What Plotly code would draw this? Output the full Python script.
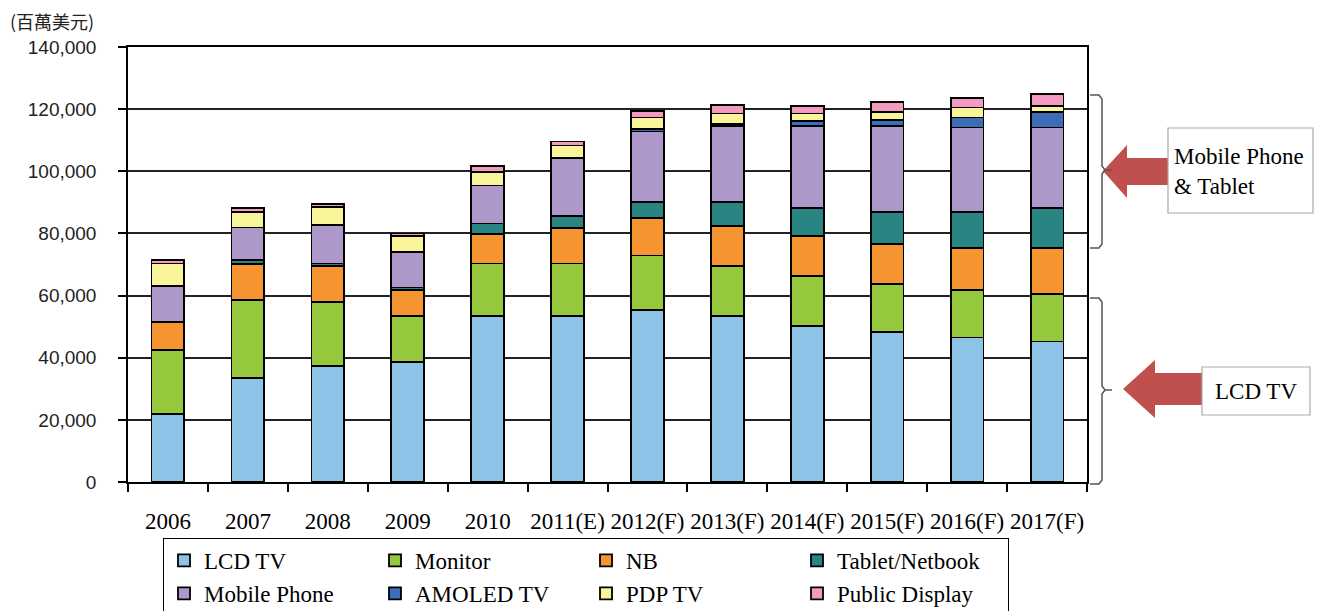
import plotly.graph_objects as go

years = ["2006", "2007", "2008", "2009", "2010", "2011(E)", "2012(F)",
         "2013(F)", "2014(F)", "2015(F)", "2016(F)", "2017(F)"]

lcd_tv   = [22000, 33600, 37400, 38700, 53500, 53500, 55300, 53500, 50300, 48400, 46500, 45200]
monitor  = [20600, 25100, 20600, 14800, 16800, 16800, 17600, 16100, 16100, 15400, 15400, 15400]
nb       = [8900, 11400, 11600, 8400, 9600, 11500, 12000, 12900, 12900, 12900, 13500, 14800]
tablet   = [0, 1300, 700, 700, 3300, 3900, 5100, 7700, 9000, 10300, 11600, 12900]
mobile   = [11500, 10500, 12400, 11500, 12200, 18700, 22800, 24500, 26400, 27700, 27100, 25800]
amoled   = [0, 0, 0, 0, 0, 0, 700, 600, 1500, 1900, 3200, 5100]
pdp_tv   = [7300, 5100, 5900, 5200, 4500, 3900, 3800, 3300, 2400, 2600, 3200, 1900]
public   = [1100, 1300, 800, 700, 1900, 1300, 2100, 2800, 2500, 3200, 3200, 3900]

series = [
    ("LCD TV", lcd_tv, "#8EC3E8"),
    ("Monitor", monitor, "#95C83C"),
    ("NB", nb, "#F79432"),
    ("Tablet/Netbook", tablet, "#2A8582"),
    ("Mobile Phone", mobile, "#AE98C9"),
    ("AMOLED TV", amoled, "#3D6CB8"),
    ("PDP TV", pdp_tv, "#F8F49A"),
    ("Public Display", public, "#F39AC1"),
]

SERIF = "Liberation Serif"
SANS = "Liberation Sans"

fig = go.Figure()
for name, vals, col in series:
    fig.add_trace(go.Bar(
        x=years, y=vals, name=name,
        marker=dict(color=col, line=dict(color="black", width=1.8)),
        width=0.41,
    ))

# page offset (body margin) and screen-pixel -> paper helpers
OFF = 8
W, H = 1326 - OFF, 611 - OFF
L, R, T, B = 128 - OFF, 1087 - OFF, 47 - OFF, 482 - OFF
def px(x):
    return (x - OFF - L) / (R - L)
def py(y):
    return (B - (y - OFF)) / (B - T)
def path(points, close=True):
    s = "M " + " L ".join(f"{px(a):.5f},{py(b):.5f}" for a, b in points)
    return s + (" Z" if close else "")

shapes = []
red = "#C0504D"
shapes.append(dict(type="path", xref="paper", yref="paper", layer="above",
                   path=path([(1103, 171), (1127, 145), (1127, 158), (1168, 158),
                              (1168, 185), (1127, 185), (1127, 198)]),
                   fillcolor=red, line=dict(width=0)))
shapes.append(dict(type="path", xref="paper", yref="paper", layer="above",
                   path=path([(1123, 389), (1155, 360), (1155, 373), (1202, 373),
                              (1202, 405), (1155, 405), (1155, 418)]),
                   fillcolor=red, line=dict(width=0)))
for x0, y0, x1, y1 in [(1168, 128, 1313, 213), (1202, 367, 1310, 415)]:
    shapes.append(dict(type="rect", xref="paper", yref="paper", layer="above",
                       x0=px(x0), x1=px(x1), y0=py(y1), y1=py(y0),
                       fillcolor="white", line=dict(color="#AAAAAA", width=1.2)))

def brace(top, mid, bot):
    pts = [(1090, top), (1099, top), (1102, top + 4), (1102, mid - 4),
           (1105, mid), (1112, mid), (1105, mid), (1102, mid + 4),
           (1102, bot - 4), (1099, bot), (1090, bot)]
    return path(pts, close=False)

for top, mid, bot in [(95, 170, 248), (298, 390, 484)]:
    shapes.append(dict(type="path", xref="paper", yref="paper", layer="above",
                       path=brace(top, mid, bot),
                       line=dict(color="#555555", width=1.5)))

annotations = [
    dict(text="(百萬美元)", xref="paper", yref="paper", x=px(8), y=py(21),
         xanchor="left", yanchor="middle", showarrow=False,
         font=dict(family="Noto Sans CJK TC", size=18, color="#222")),
    dict(text="Mobile Phone<br>& Tablet", xref="paper", yref="paper",
         x=px(1172), y=py(171), xanchor="left", yanchor="middle", align="left",
         showarrow=False, font=dict(family=SERIF, size=23, color="black")),
    dict(text="LCD TV", xref="paper", yref="paper",
         x=px(1256), y=py(391), xanchor="center", yanchor="middle",
         showarrow=False, font=dict(family=SERIF, size=23, color="black")),
]

fig.update_layout(
    width=W, height=H,
    margin=dict(l=L, r=W - R, t=T, b=H - B, autoexpand=False),
    paper_bgcolor="white", plot_bgcolor="white",
    barmode="stack",
    showlegend=True,
    legend=dict(orientation="h", x=px(163), xanchor="left", y=py(538), yanchor="top",
                bordercolor="black", borderwidth=1, bgcolor="white",
                entrywidth=166, entrywidthmode="pixels", traceorder="normal",
                font=dict(family=SERIF, size=23, color="black"),
                itemwidth=30, tracegroupgap=0),
    shapes=shapes,
    annotations=annotations,
    xaxis=dict(type="category", showline=True, linecolor="black", linewidth=1.5,
               mirror=True, ticks="outside", tickson="boundaries", ticklen=8,
               tickcolor="black", tickwidth=1.5, showgrid=False,
               ticklabelstandoff=18, tickangle=0,
               tickfont=dict(family=SERIF, size=23, color="black")),
    yaxis=dict(range=[0, 140000], dtick=20000, tickformat=",d",
               showline=True, linecolor="black", linewidth=1.5, mirror=True,
               ticks="outside", ticklen=8, tickcolor="black", tickwidth=1.5,
               showgrid=True, gridcolor="#222222", gridwidth=1.5,
               ticklabelstandoff=18, zeroline=False,
               tickfont=dict(family=SANS, size=19, color="#222")),
)

fig.write_html("out.html")
